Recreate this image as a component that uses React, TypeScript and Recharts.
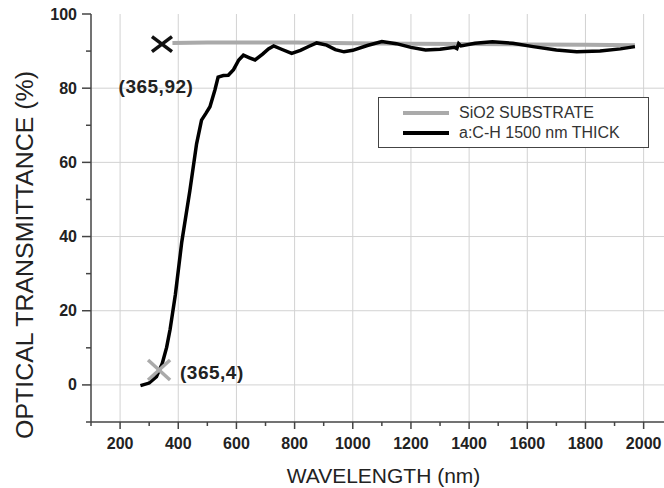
import React from 'react';
import {
  ComposedChart,
  Line,
  Scatter,
  XAxis,
  YAxis,
  Legend,
} from 'recharts';

// wavelength (nm) / transmittance (%)
const substrateNm = [380, 500, 600, 800, 1000, 1200, 1400, 1600, 1800, 1970];
const substrateT = [92.2, 92.3, 92.3, 92.3, 92.1, 92.0, 91.9, 91.8, 91.7, 91.6];

const filmNm = [
  270, 300, 325, 345, 360, 372, 390, 412, 440, 463, 480, 495, 509, 526, 537, 555,
  572, 590, 608, 624, 645, 664, 690, 710, 728, 755, 790, 820, 850, 876, 910, 940,
  970, 1000, 1050, 1100, 1150, 1200, 1250, 1300, 1350, 1358, 1364, 1372, 1420, 1480,
  1550, 1620, 1700, 1770, 1850, 1920, 1970,
];
const filmT = [
  -0.2, 0.5, 2.2, 5.8, 10.1, 15, 24.3, 38.5, 52.4, 65, 71.4, 73.2, 75, 79.5, 83, 83.4,
  83.5, 85, 87.6, 88.9, 88.2, 87.6, 89.2, 90.6, 91.4, 90.5, 89.4, 90.2, 91.3, 92.2, 91.6, 90.4,
  89.8, 90.2, 91.5, 92.6, 92.0, 91.0, 90.3, 90.5, 91.0, 90.7, 92.0, 91.4, 92.1, 92.5,
  92.1, 91.2, 90.3, 89.8, 90.0, 90.6, 91.2,
];

const seriesNames = ['SiO2 SUBSTRATE', 'a:C-H 1500 nm THICK'];

const blackMark = [{ x: 344, y: 91.9, label: '(365,92)' }];
const grayMark = [{ x: 334, y: 4, label: '(365,4)' }];

const xDomain = [100, 2070];
const yDomain = [-10, 100];
const xTicks = [100, 200, 300, 400, 500, 600, 700, 800, 900, 1000, 1100, 1200, 1300, 1400, 1500, 1600, 1700, 1800, 1900, 2000];
const xMajor = [200, 400, 600, 800, 1000, 1200, 1400, 1600, 1800, 2000];
const yTicks = [-10, 0, 10, 20, 30, 40, 50, 60, 70, 80, 90, 100];
const yMajor = [0, 20, 40, 60, 80, 100];
const yGrid = [0, 20, 40, 60, 80];

const substrate = substrateNm.map((x, i) => ({ x, y: substrateT[i] }));
const film = filmNm.map((x, i) => ({ x, y: filmT[i] }));

// grid drawn as plain series through the axis scales
const vGrid = xMajor.map((v) => [{ x: v, y: yDomain[0] }, { x: v, y: yDomain[1] }]);
const hGrid = yGrid.map((v) => [{ x: xDomain[0], y: v }, { x: xDomain[1], y: v }]);

const FONT = '"Liberation Sans", Arial, sans-serif';
const AXIS = '#444';
const TEXT = '#222';
const GRAY = '#aaaaaa';
const GRID = '#d2d2d2';

const BottomTick = (props: any) => {
  const { x, y, payload } = props;
  const major = xMajor.includes(payload.value);
  return (
    <g>
      <line x1={x} y1={y} x2={x} y2={y + (major ? 7 : 4)} stroke={AXIS} strokeWidth={1.5} />
      {major && (
        <text x={x} y={y + 27} textAnchor="middle" fontFamily={FONT} fontSize={16} fontWeight="bold" fill={TEXT}>
          {payload.value}
        </text>
      )}
    </g>
  );
};

const TopTick = (props: any) => {
  const { x, y, payload } = props;
  const major = xMajor.includes(payload.value);
  return <line x1={x} y1={y} x2={x} y2={y + (major ? 7 : 4)} stroke={AXIS} strokeWidth={1.5} />;
};

const LeftTick = (props: any) => {
  const { x, y, payload } = props;
  const major = yMajor.includes(payload.value);
  return (
    <g>
      <line x1={x} y1={y} x2={x - (major ? 9 : 5)} y2={y} stroke={AXIS} strokeWidth={1.5} />
      {major && (
        <text x={x - 14} y={y + 5.5} textAnchor="end" fontFamily={FONT} fontSize={16} fontWeight="bold" fill={TEXT}>
          {payload.value}
        </text>
      )}
    </g>
  );
};

const RightTick = (props: any) => {
  const { x, y, payload } = props;
  const major = yMajor.includes(payload.value);
  return <line x1={x} y1={y} x2={x - (major ? 7 : 4)} y2={y} stroke={AXIS} strokeWidth={1.5} />;
};

const cross = (color: string, hw: number, hh: number, dx: number, dy: number, anchor: string) => (props: any) => {
  const { cx, cy, payload } = props;
  return (
    <g>
      <line x1={cx - hw} y1={cy - hh} x2={cx + hw} y2={cy + hh} stroke={color} strokeWidth={3.5} />
      <line x1={cx - hw} y1={cy + hh} x2={cx + hw} y2={cy - hh} stroke={color} strokeWidth={3.5} />
      <text x={cx + dx} y={cy + dy} textAnchor={anchor as any} fontFamily={FONT} fontSize={19} fontWeight="bold" fill={TEXT} letterSpacing={0.5}>
        {payload.label}
      </text>
    </g>
  );
};

const LegendBox = (props: any) => {
  const items = (props.payload || []).filter((p: any) => p.type !== 'none' && seriesNames.includes(p.value));
  return (
    <div style={{ border: `1px solid ${AXIS}`, background: '#fff', padding: '5px 0 4px 24px', fontFamily: FONT }}>
      {items.map((p: any) => (
        <div key={p.value} style={{ display: 'flex', alignItems: 'center', height: 20 }}>
          <svg width={46} height={8} style={{ marginRight: 10 }}>
            <line x1={0} y1={4} x2={46} y2={4} stroke={p.color} strokeWidth={4} />
          </svg>
          <span style={{ fontSize: 16, color: '#333' }}>{p.value}</span>
        </div>
      ))}
    </div>
  );
};

export default function App() {
  return (
    <div style={{ position: 'absolute', left: 0, top: 0, background: '#fff' }}>
      <ComposedChart width={664} height={488} margin={{ top: 14, right: 0, bottom: 0, left: 0 }}>
        <XAxis
          xAxisId="bottom"
          dataKey="x"
          type="number"
          domain={xDomain}
          allowDataOverflow
          ticks={xTicks}
          interval={0}
          tick={<BottomTick />}
          tickLine={false}
          tickSize={0}
          tickMargin={0}
          height={66}
          axisLine={{ stroke: AXIS, strokeWidth: 1.5 }}
          label={{
            content: (p: any) => (
              <text x={p.viewBox.x + p.viewBox.width / 2 + 6} y={p.viewBox.y + 61} textAnchor="middle" fontFamily={FONT} fontSize={21} fill={TEXT}>
                WAVELENGTH (nm)
              </text>
            ),
          }}
        />
        <XAxis
          xAxisId="top"
          orientation="top"
          dataKey="x"
          type="number"
          domain={xDomain}
          allowDataOverflow
          ticks={xTicks}
          interval={0}
          tick={<TopTick />}
          tickLine={false}
          tickSize={0}
          tickMargin={0}
          height={0}
          axisLine={{ stroke: AXIS, strokeWidth: 1.5 }}
        />
        <YAxis
          yAxisId="left"
          type="number"
          domain={yDomain}
          allowDataOverflow
          ticks={yTicks}
          interval={0}
          tick={<LeftTick />}
          tickLine={false}
          tickSize={0}
          tickMargin={0}
          width={91}
          axisLine={{ stroke: AXIS, strokeWidth: 1.5 }}
          label={{
            content: (p: any) => {
              const cx = 25;
              const cy = p.viewBox.y + 241;
              return (
                <text
                  x={cx}
                  y={cy}
                  transform={`rotate(-90 ${cx} ${cy})`}
                  textAnchor="middle"
                  dominantBaseline="central"
                  fontFamily={FONT}
                  fontSize={23}
                  fill={TEXT}
                  textLength={368}
                  lengthAdjust="spacingAndGlyphs"
                >
                  OPTICAL TRANSMITTANCE (%)
                </text>
              );
            },
          }}
        />
        <YAxis
          yAxisId="right"
          orientation="right"
          type="number"
          domain={yDomain}
          allowDataOverflow
          ticks={yTicks}
          interval={0}
          tick={<RightTick />}
          tickLine={false}
          tickSize={0}
          tickMargin={0}
          width={0}
          axisLine={{ stroke: AXIS, strokeWidth: 1.5 }}
        />
        {vGrid.map((d, i) => (
          <Line
            key={`gv${i}`}
            xAxisId="bottom"
            yAxisId="left"
            data={d}
            dataKey="y"
            name={`gv${i}`}
            legendType="none"
            stroke={GRID}
            strokeWidth={1}
            dot={false}
            activeDot={false}
            isAnimationActive={false}
          />
        ))}
        {hGrid.map((d, i) => (
          <Line
            key={`gh${i}`}
            xAxisId="bottom"
            yAxisId="left"
            data={d}
            dataKey="y"
            name={`gh${i}`}
            legendType="none"
            stroke={GRID}
            strokeWidth={1}
            dot={false}
            activeDot={false}
            isAnimationActive={false}
          />
        ))}
        <Line
          xAxisId="bottom"
          yAxisId="left"
          data={substrate}
          dataKey="y"
          name={seriesNames[0]}
          type="linear"
          stroke={GRAY}
          strokeWidth={4}
          dot={false}
          isAnimationActive={false}
        />
        <Line
          xAxisId="bottom"
          yAxisId="left"
          data={film}
          dataKey="y"
          name={seriesNames[1]}
          type="linear"
          stroke="#000"
          strokeWidth={3.5}
          dot={false}
          isAnimationActive={false}
        />
        <Scatter
          xAxisId="bottom"
          yAxisId="left"
          data={blackMark}
          dataKey="y"
          legendType="none"
          shape={cross('#111', 10, 7.5, -6, 49, 'middle')}
          isAnimationActive={false}
        />
        <Scatter
          xAxisId="bottom"
          yAxisId="left"
          data={grayMark}
          dataKey="y"
          legendType="none"
          shape={cross(GRAY, 11, 10, 21, 9, 'start')}
          isAnimationActive={false}
        />
        <Legend
          layout="vertical"
          align="center"
          verticalAlign="middle"
          content={<LegendBox />}
          wrapperStyle={{ left: 378, top: 97, width: 271 }}
        />
      </ComposedChart>
    </div>
  );
}
